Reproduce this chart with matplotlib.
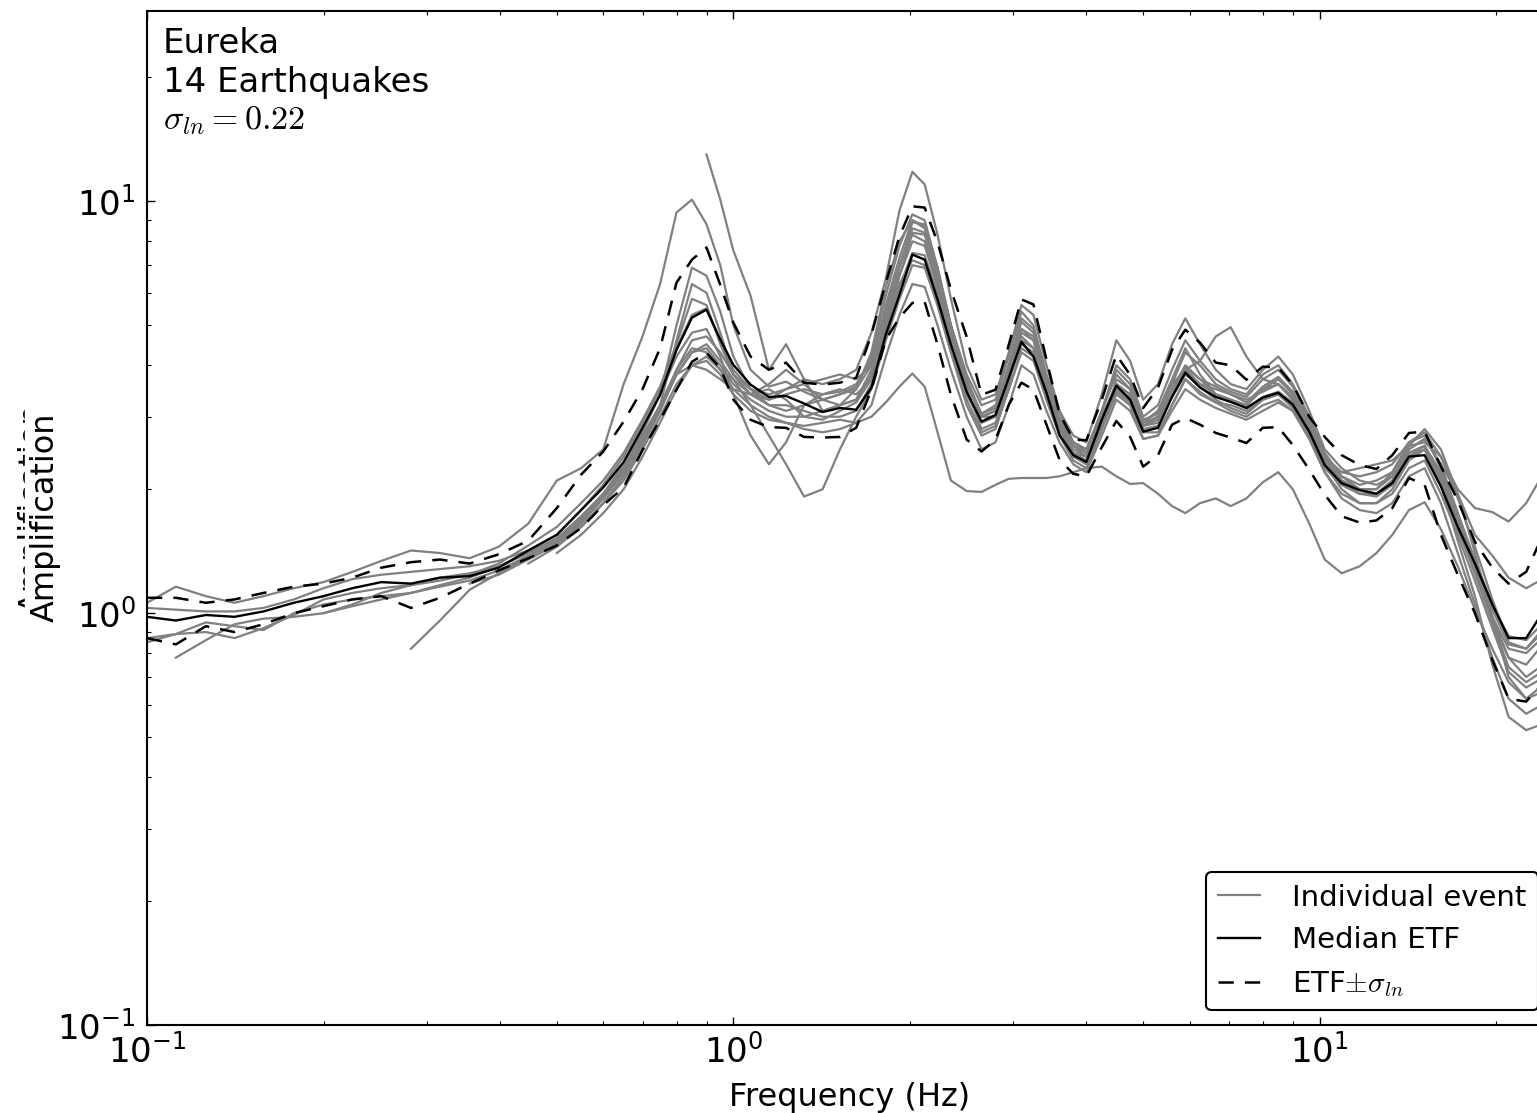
import matplotlib.pyplot as plt
import numpy as np
from matplotlib.lines import Line2D
from matplotlib.patches import Rectangle

nan = np.nan

# frequency grid (Hz)
freq = [0.100, 0.112, 0.126, 0.141, 0.158, 0.178, 0.200, 0.224, 0.251, 0.282,
        0.316, 0.355, 0.398, 0.447, 0.500, 0.550, 0.600, 0.650, 0.700, 0.750,
        0.800, 0.850, 0.900, 0.950, 1.000, 1.070, 1.150, 1.230, 1.320, 1.420,
        1.520, 1.620, 1.720, 1.820, 1.920, 2.020, 2.120, 2.230, 2.350, 2.500,
        2.650, 2.800, 2.950, 3.100, 3.250, 3.420, 3.600, 3.800, 4.000, 4.250,
        4.500, 4.750, 5.000, 5.300, 5.600, 5.900, 6.250, 6.650, 7.050, 7.500,
        8.000, 8.500, 9.000, 9.600, 10.20, 10.90, 11.70, 12.50, 13.30, 14.20,
        15.10, 16.10, 17.20, 18.40, 19.70, 21.00, 22.50, 25.00]

median_etf = [0.98, 0.96, 0.99, 0.98, 1.01, 1.06, 1.10, 1.15, 1.19, 1.18,
              1.22, 1.23, 1.29, 1.42, 1.55, 1.78, 2.02, 2.33, 2.82, 3.39,
              4.36, 5.22, 5.46, 4.62, 4.01, 3.59, 3.35, 3.37, 3.23, 3.08,
              3.15, 3.12, 3.53, 4.75, 5.94, 7.43, 7.22, 5.78, 4.49, 3.45,
              2.92, 3.03, 3.73, 4.56, 4.20, 3.43, 2.71, 2.42, 2.33, 2.95,
              3.57, 3.30, 2.76, 2.82, 3.35, 3.84, 3.53, 3.35, 3.26, 3.15,
              3.34, 3.43, 3.21, 2.76, 2.29, 2.07, 1.99, 1.95, 2.07, 2.40,
              2.42, 2.03, 1.62, 1.32, 1.05, 0.87, 0.87, 1.10]

etf_plus = [1.09, 1.09, 1.06, 1.08, 1.12, 1.16, 1.18, 1.22, 1.29, 1.33,
            1.35, 1.32, 1.39, 1.50, 1.80, 2.17, 2.47, 2.92, 3.50, 4.40,
            6.35, 7.22, 7.73, 6.27, 5.08, 4.20, 3.90, 4.06, 3.63, 3.59,
            3.63, 3.73, 4.75, 6.35, 8.22, 9.73, 9.66, 7.95, 6.11, 4.69,
            3.39, 3.49, 4.49, 5.78, 5.62, 4.13, 3.05, 2.64, 2.63, 3.30,
            4.24, 3.79, 3.15, 3.53, 4.36, 4.88, 4.54, 4.06, 4.00, 3.69,
            3.97, 3.95, 3.59, 3.00, 2.68, 2.42, 2.29, 2.24, 2.42, 2.74,
            2.76, 2.27, 1.88, 1.49, 1.29, 1.18, 1.26, 1.75]

etf_minus = [0.87, 0.84, 0.93, 0.90, 0.94, 1.00, 1.04, 1.08, 1.10, 1.03,
             1.09, 1.18, 1.27, 1.36, 1.46, 1.61, 1.83, 2.02, 2.49, 2.95,
             3.49, 4.08, 4.29, 3.94, 3.30, 2.95, 2.83, 2.82, 2.68, 2.67,
             2.68, 2.82, 3.49, 4.62, 5.22, 5.67, 5.70, 4.49, 3.39, 2.64,
             2.47, 2.64, 3.21, 3.63, 3.49, 2.87, 2.36, 2.18, 2.15, 2.53,
             2.93, 2.68, 2.27, 2.42, 2.87, 2.98, 2.87, 2.74, 2.67, 2.59,
             2.82, 2.83, 2.56, 2.23, 1.94, 1.72, 1.66, 1.68, 1.80, 2.13,
             2.05, 1.55, 1.24, 1.00, 0.77, 0.62, 0.61, 0.72]

event_01 = [1.06, 1.16, 1.10, 1.06, 1.10, 1.15, 1.19, 1.26, 1.34, 1.42,
            1.40, 1.36, 1.45, 1.65, 2.10, 2.25, 2.50, 3.60, 4.70, 6.30,
            9.40, 10.1, 8.80, 7.00, 5.00, 3.90, 3.55, 3.65, 3.45, 3.30,
            3.40, 3.55, 4.20, 5.90, 7.80, 9.30, 9.00, 6.90, 5.00, 3.70,
            3.05, 3.20, 4.00, 5.10, 4.80, 3.70, 2.90, 2.55, 2.45, 3.10,
            3.90, 3.60, 2.95, 3.05, 3.60, 4.30, 4.00, 3.60, 3.45, 3.35,
            3.70, 3.90, 3.55, 2.95, 2.40, 2.10, 1.95, 1.92, 2.05, 2.45,
            2.55, 2.15, 1.65, 1.25, 0.95, 0.78, 0.75, 0.90]

event_02 = [nan, nan, nan, nan, nan, nan, nan, nan, nan, nan,
            nan, nan, nan, nan, nan, nan, nan, nan, nan, nan,
            nan, nan, 13.0, 10.1, 7.60, 5.90, 3.90, 4.50, 3.70, 3.10,
            3.20, 3.50, 4.30, 6.20, 8.00, 9.00, 8.60, 6.80, 5.00, 3.70,
            3.00, 3.10, 3.90, 4.90, 4.60, 3.50, 2.80, 2.45, 2.40, 3.00,
            3.60, 3.30, 2.85, 3.00, 3.50, 4.00, 3.70, 3.40, 3.30, 3.20,
            3.50, 3.70, 3.40, 2.80, 2.30, 2.00, 1.85, 1.85, 2.00, 2.35,
            2.50, 2.10, 1.60, 1.25, 0.98, 0.82, 0.80, 0.92]

event_03 = [nan, nan, nan, nan, nan, nan, nan, nan, nan, 0.82,
            0.96, 1.14, 1.25, 1.36, 1.48, 1.62, 1.85, 2.10, 2.50, 3.00,
            3.60, 4.00, 4.10, 3.80, 3.40, 3.10, 2.95, 2.90, 2.85, 2.90,
            2.95, 2.90, 3.00, 3.25, 3.55, 3.82, 3.55, 2.75, 2.10, 1.98,
            1.97, 2.05, 2.12, 2.13, 2.13, 2.13, 2.15, 2.20, 2.25, 2.27,
            2.15, 2.06, 2.07, 1.95, 1.82, 1.75, 1.85, 1.90, 1.82, 1.90,
            2.08, 2.20, 2.00, 1.65, 1.35, 1.25, 1.30, 1.40, 1.55, 1.78,
            1.86, 1.60, 1.30, 1.02, 0.82, 0.68, 0.62, 0.66]

event_04 = [0.85, 0.89, 0.95, 0.93, 0.91, 1.00, 1.05, 1.08, 1.10, 1.12,
            1.16, 1.20, 1.27, 1.38, 1.50, 1.68, 1.92, 2.25, 2.70, 3.20,
            3.90, 4.40, 4.30, 3.90, 3.70, 3.20, 2.70, 2.30, 1.92, 2.00,
            2.50, 3.00, 3.50, 4.60, 5.80, 7.00, 6.90, 5.60, 4.30, 3.20,
            2.70, 2.80, 3.50, 4.30, 4.10, 3.30, 2.70, 2.35, 2.25, 2.80,
            3.40, 3.20, 2.65, 2.70, 3.20, 3.70, 3.40, 3.25, 3.10, 3.00,
            3.20, 3.30, 3.10, 2.65, 2.20, 1.95, 1.85, 1.85, 1.95, 2.25,
            2.35, 1.95, 1.55, 1.20, 0.92, 0.72, 0.66, 0.72]

event_05 = [nan, 0.78, 0.86, 0.94, 0.97, 0.98, 1.00, 1.04, 1.08, 1.12,
            1.17, 1.22, 1.30, 1.40, 1.52, 1.70, 1.95, 2.30, 2.80, 3.40,
            4.20, 4.80, 4.90, 4.20, 3.40, 2.70, 2.30, 2.60, 3.20, 3.30,
            3.20, 3.30, 3.90, 5.20, 6.60, 8.00, 7.80, 6.20, 4.70, 3.60,
            3.00, 3.10, 3.80, 4.60, 4.40, 3.60, 2.95, 2.55, 2.40, 2.90,
            3.50, 3.35, 2.85, 2.90, 3.35, 3.80, 3.55, 3.30, 3.15, 3.05,
            3.30, 3.40, 3.20, 2.75, 2.30, 2.10, 2.00, 1.95, 2.05, 2.40,
            2.50, 2.05, 1.60, 1.30, 1.02, 0.84, 0.82, 0.98]

event_06 = [nan, nan, nan, nan, nan, nan, 1.00, 1.05, 1.12, 1.17,
            1.22, 1.25, 1.30, 1.40, 1.52, 1.72, 1.95, 2.25, 2.75, 3.40,
            5.00, 6.90, 6.60, 5.40, 4.20, 3.50, 3.30, 3.50, 3.70, 3.60,
            3.70, 3.90, 4.80, 6.50, 9.50, 11.8, 11.0, 8.30, 5.80, 4.00,
            3.30, 3.40, 4.30, 5.60, 5.30, 4.00, 3.10, 2.60, 2.45, 3.10,
            4.00, 3.70, 3.00, 3.20, 3.90, 4.60, 4.10, 3.70, 3.50, 3.40,
            3.80, 4.00, 3.60, 3.00, 2.45, 2.15, 2.00, 2.00, 2.20, 2.60,
            2.70, 2.25, 1.75, 1.35, 1.05, 0.88, 0.86, 1.00]

event_07 = [nan, nan, nan, nan, nan, nan, nan, nan, nan, nan,
            nan, 1.18, 1.24, 1.35, 1.47, 1.65, 1.90, 2.20, 2.60, 3.10,
            3.80, 4.30, 4.50, 4.10, 3.70, 3.40, 3.30, 3.40, 3.50, 3.40,
            3.45, 3.60, 4.10, 5.50, 7.00, 8.30, 8.00, 6.30, 4.70, 3.60,
            3.05, 3.15, 3.80, 4.70, 4.40, 3.50, 2.85, 2.50, 2.40, 2.95,
            3.60, 3.40, 2.85, 2.95, 3.40, 3.90, 3.60, 3.40, 3.30, 3.15,
            3.35, 3.45, 3.25, 2.80, 2.35, 2.20, 2.25, 2.30, 2.35, 2.55,
            2.60, 2.40, 2.00, 1.80, 1.76, 1.67, 1.85, 2.40]

event_08 = [nan, nan, nan, nan, nan, nan, nan, nan, nan, nan,
            nan, nan, 1.27, 1.36, 1.48, 1.66, 1.90, 2.20, 2.65, 3.20,
            3.80, 4.30, 4.40, 4.00, 3.60, 3.30, 3.10, 3.00, 3.00, 3.10,
            3.20, 3.30, 3.80, 5.00, 6.30, 7.20, 7.00, 5.60, 4.30, 3.40,
            2.90, 3.00, 3.70, 4.50, 4.30, 3.40, 2.80, 2.45, 2.35, 2.90,
            3.50, 3.30, 2.90, 3.10, 3.60, 3.90, 4.10, 4.70, 4.95, 4.20,
            3.70, 3.60, 3.30, 2.80, 2.30, 2.05, 1.95, 1.95, 2.10, 2.40,
            2.55, 2.20, 1.70, 1.30, 0.98, 0.78, 0.70, 0.78]

event_09 = [1.03, 1.02, 1.01, 1.01, 1.03, 1.08, 1.15, 1.21, 1.24, 1.26,
            1.28, 1.30, 1.34, 1.42, 1.55, 1.78, 2.05, 2.40, 2.90, 3.50,
            4.40, 5.30, 5.50, 4.60, 3.90, 3.50, 3.40, 3.50, 3.60, 3.70,
            3.80, 3.70, 4.00, 5.40, 7.00, 8.60, 8.40, 6.60, 5.00, 3.80,
            3.20, 3.30, 4.20, 5.40, 5.00, 3.80, 3.10, 2.70, 2.60, 3.40,
            4.60, 4.10, 3.30, 3.60, 4.50, 5.20, 4.50, 3.90, 3.60, 3.50,
            3.90, 4.20, 3.80, 3.10, 2.50, 2.25, 2.10, 2.05, 2.15, 2.50,
            2.65, 2.30, 1.95, 1.55, 1.38, 1.22, 1.15, 1.25]

event_10 = [0.87, 0.89, 0.90, 0.87, 0.92, 0.99, 1.08, 1.12, 1.15, 1.17,
            1.20, 1.24, 1.32, 1.46, 1.62, 1.85, 2.10, 2.45, 2.95, 3.55,
            4.50, 5.80, 5.60, 4.50, 3.80, 3.40, 3.60, 3.90, 3.60, 3.30,
            3.40, 3.50, 4.00, 5.60, 7.30, 9.00, 8.70, 6.60, 4.80, 3.60,
            3.00, 3.10, 4.00, 5.20, 4.90, 3.70, 2.95, 2.60, 2.50, 3.10,
            3.80, 3.50, 2.90, 3.10, 3.70, 4.40, 3.80, 3.40, 3.30, 3.20,
            3.50, 3.60, 3.30, 2.85, 2.40, 2.20, 2.15, 2.20, 2.30, 2.60,
            2.75, 2.40, 1.90, 1.45, 1.08, 0.85, 0.82, 0.95]

event_11 = [nan, nan, nan, nan, nan, nan, nan, nan, nan, nan,
            nan, nan, nan, nan, 1.40, 1.55, 1.75, 2.00, 2.40, 2.90,
            3.50, 4.00, 4.20, 3.90, 3.50, 3.20, 3.00, 2.90, 2.80, 2.75,
            2.80, 2.90, 3.20, 4.20, 5.30, 6.30, 6.20, 5.00, 3.90, 3.00,
            2.50, 2.60, 3.20, 4.00, 3.80, 3.10, 2.60, 2.30, 2.20, 2.70,
            3.30, 3.10, 2.65, 2.70, 3.10, 3.50, 3.30, 3.15, 3.05, 2.95,
            3.10, 3.25, 3.10, 2.65, 2.20, 1.90, 1.78, 1.75, 1.85, 2.15,
            2.25, 1.85, 1.40, 1.05, 0.78, 0.62, 0.57, 0.62]

event_12 = [nan, nan, nan, nan, nan, nan, nan, nan, nan, nan,
            nan, nan, nan, 1.32, 1.45, 1.62, 1.85, 2.15, 2.55, 3.10,
            3.90, 4.60, 4.70, 4.30, 3.80, 3.50, 3.20, 3.20, 3.10, 3.00,
            3.00, 3.10, 3.60, 4.90, 6.20, 7.50, 7.40, 6.00, 4.50, 3.30,
            2.75, 2.85, 3.50, 4.40, 4.20, 3.30, 2.70, 2.40, 2.30, 2.85,
            3.45, 3.25, 2.75, 2.75, 3.20, 3.70, 3.45, 3.25, 3.20, 3.10,
            3.30, 3.40, 3.15, 2.70, 2.25, 2.05, 1.95, 1.95, 2.10, 2.45,
            2.55, 2.05, 1.50, 1.10, 0.75, 0.56, 0.52, 0.55]

event_13 = [nan, nan, nan, nan, nan, nan, nan, nan, nan, nan,
            nan, nan, nan, nan, nan, nan, 1.90, 2.20, 2.60, 3.20,
            4.60, 6.30, 6.00, 4.80, 3.80, 3.40, 3.20, 3.10, 3.20, 3.40,
            3.50, 3.40, 3.70, 5.00, 6.60, 8.40, 8.30, 6.50, 4.80, 3.50,
            2.80, 2.90, 3.60, 4.90, 4.70, 3.60, 2.80, 2.45, 2.30, 2.80,
            3.70, 3.50, 2.80, 2.85, 3.40, 3.95, 3.70, 3.55, 3.40, 3.30,
            3.45, 3.60, 3.35, 2.90, 2.40, 2.15, 2.05, 2.10, 2.20, 2.55,
            2.80, 2.50, 1.95, 1.40, 0.98, 0.70, 0.62, 0.70]

event_14 = [nan, nan, nan, nan, nan, nan, nan, nan, nan, nan,
            nan, nan, nan, nan, nan, 1.62, 1.85, 2.15, 2.60, 3.15,
            3.80, 4.00, 3.90, 3.70, 3.50, 3.40, 3.50, 3.30, 3.00, 2.95,
            3.10, 3.25, 3.70, 5.20, 6.90, 8.90, 8.80, 6.90, 5.00, 3.70,
            3.00, 3.00, 3.70, 4.80, 4.60, 3.70, 3.00, 2.60, 2.50, 3.00,
            3.60, 3.40, 2.90, 3.00, 3.40, 3.90, 3.60, 3.50, 3.40, 3.25,
            3.55, 3.75, 3.45, 2.90, 2.35, 2.10, 2.00, 2.00, 2.15, 2.50,
            2.65, 2.30, 1.75, 1.30, 0.95, 0.74, 0.68, 0.75]

events = [event_01, event_02, event_03, event_04, event_05, event_06, event_07,
          event_08, event_09, event_10, event_11, event_12, event_13, event_14]

plt.rcParams['font.family'] = 'DejaVu Sans'
plt.rcParams['mathtext.fontset'] = 'cm'
plt.rcParams['lines.scale_dashes'] = False
plt.rcParams['lines.solid_joinstyle'] = 'round'
plt.rcParams['lines.dash_joinstyle'] = 'round'
fs = 24.5
fs_lab = 23
fs_leg = 21
W, H = 1537, 1113

fig = plt.figure(figsize=(W / 100, H / 100), dpi=100)
ax = fig.add_axes([147 / W, 1 - 1025 / H, 1406 / W, 1014 / H])

gray = '#808080'
dash = (11, 8)
for ev in events:
    ax.plot(freq, ev, color=gray, lw=1.6)
ax.plot(freq, median_etf, color='k', lw=1.7)
ax.plot(freq, etf_plus, color='k', lw=1.8, dashes=dash)
ax.plot(freq, etf_minus, color='k', lw=1.8, dashes=dash)

ax.set_xscale('log')
ax.set_yscale('log')
ax.set_xlim(0.1, 25)
ax.set_ylim(0.1, 29)

for s in ax.spines.values():
    s.set_linewidth(1.5)
ax.tick_params(which='both', direction='in', top=True, right=True, labelsize=fs)
ax.tick_params(which='major', length=6, width=1)
ax.tick_params(which='minor', length=3, width=0.8)
ax.tick_params(axis='x', pad=6)
ax.tick_params(axis='y', pad=8)

ax.set_xlabel('Frequency (Hz)', fontsize=fs_lab, labelpad=9)

# y label (with the faint doubled copy seen in the original)
fig.text(33 / W, 1 - 508 / H, 'Amplification', rotation=90, ha='center',
         va='center', fontsize=fs_lab, zorder=1)
fig.patches.append(Rectangle((25 / W, 1 - 660 / H), 50 / W, 300 / H,
                             transform=fig.transFigure, color='white', zorder=2))
fig.text(45 / W, 1 - 517 / H, 'Amplification', rotation=90, ha='center',
         va='center', fontsize=fs_lab, zorder=3)

fig.text(163 / W, 1 - 53 / H, 'Eureka', fontsize=fs, va='baseline')
fig.text(163 / W, 1 - 92 / H, '14 Earthquakes', fontsize=fs, va='baseline')
fig.text(163 / W, 1 - 129 / H, r'$\sigma_{ln} = 0.22$', fontsize=fs, va='baseline')

handles = [Line2D([], [], color=gray, lw=1.6),
           Line2D([], [], color='k', lw=1.7),
           Line2D([], [], color='k', lw=1.8, dashes=dash)]
labels = ['Individual event', 'Median ETF', r'ETF$\pm\sigma_{ln}$']
leg = ax.legend(handles, labels, loc='lower right', fontsize=fs_leg, fancybox=True,
                framealpha=1, handlelength=1.45, handletextpad=1.1,
                labelspacing=0.5, borderpad=0.4, borderaxespad=0.5)
leg.get_frame().set_edgecolor('k')
leg.get_frame().set_linewidth(1.5)

fig.savefig('out.png', dpi=100)
